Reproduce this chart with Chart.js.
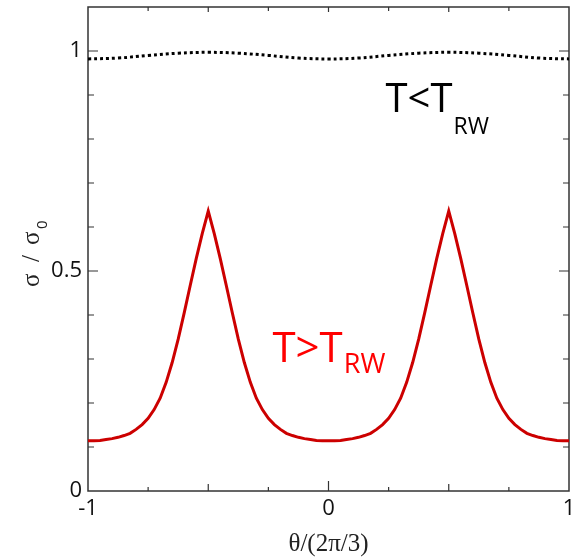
<!DOCTYPE html>
<html lang="en">
<head>
<meta charset="UTF-8">
<title>sigma / sigma0 vs theta</title>
<script src="https://cdn.jsdelivr.net/npm/chart.js"></script>
<style>
  html, body { margin: 0; padding: 0; background: #fff; }
  #wrap { width: 577px; height: 560px; }
</style>
</head>
<body>
<div id="wrap"><canvas id="chart" width="577" height="560"></canvas></div>
<script>
// theta/(2pi/3) for the T>T_RW curve
const thetaHot = [
  -1, -0.975, -0.95, -0.925, -0.9, -0.875, -0.85, -0.825, -0.8, -0.775,
  -0.75, -0.725, -0.7, -0.675, -0.65, -0.625, -0.6, -0.575, -0.55, -0.525,
  -0.5, -0.475, -0.45, -0.425, -0.4, -0.375, -0.35, -0.325, -0.3, -0.275,
  -0.25, -0.225, -0.2, -0.175, -0.15, -0.125, -0.1, -0.075, -0.05, -0.025,
  0, 0.025, 0.05, 0.075, 0.1, 0.125, 0.15, 0.175, 0.2, 0.225,
  0.25, 0.275, 0.3, 0.325, 0.35, 0.375, 0.4, 0.425, 0.45, 0.475,
  0.5, 0.525, 0.55, 0.575, 0.6, 0.625, 0.65, 0.675, 0.7, 0.725,
  0.75, 0.775, 0.8, 0.825, 0.85, 0.875, 0.9, 0.925, 0.95, 0.975, 1
];
// sigma/sigma0 above T_RW (red)
const sigmaHot = [
  0.114, 0.114, 0.115, 0.117, 0.119, 0.122, 0.126, 0.131, 0.140, 0.151,
  0.165, 0.185, 0.211, 0.247, 0.292, 0.345, 0.405, 0.467, 0.528, 0.585,
  0.636, 0.585, 0.528, 0.467, 0.405, 0.345, 0.292, 0.247, 0.211, 0.185,
  0.165, 0.151, 0.140, 0.131, 0.126, 0.122, 0.119, 0.117, 0.115, 0.114,
  0.114, 0.114, 0.115, 0.117, 0.119, 0.122, 0.126, 0.131, 0.140, 0.151,
  0.165, 0.185, 0.211, 0.247, 0.292, 0.345, 0.405, 0.467, 0.528, 0.585,
  0.636, 0.585, 0.528, 0.467, 0.405, 0.345, 0.292, 0.247, 0.211, 0.185,
  0.165, 0.151, 0.140, 0.131, 0.126, 0.122, 0.119, 0.117, 0.115, 0.114, 0.114
];
// below T_RW (black dotted)
const thetaCold = [-1, -0.875, -0.75, -0.625, -0.5, -0.375, -0.25, -0.125, 0,
                   0.125, 0.25, 0.375, 0.5, 0.625, 0.75, 0.875, 1];
const sigmaCold = [0.982, 0.984, 0.990, 0.995, 0.997, 0.995, 0.990, 0.984, 0.982,
                   0.984, 0.990, 0.995, 0.997, 0.995, 0.990, 0.984, 0.982];

const yLabels = [0, 0.5, 1];
const xLabels = [-1, 0, 1];

const near = (v, list) => list.some(l => Math.abs(v - l) < 1e-6);

// box round the plot with inward tick marks on all four sides
const framePlugin = {
  id: 'frame',
  beforeDatasetsDraw(chart) {
    const { ctx, chartArea: a, scales } = chart;
    ctx.save();
    ctx.strokeStyle = '#333';
    ctx.lineWidth = 1.5;
    ctx.strokeRect(a.left, a.top, a.right - a.left, a.bottom - a.top);
    ctx.lineWidth = 1.2;
    ctx.beginPath();
    scales.x.ticks.forEach(t => {
      const px = scales.x.getPixelForValue(t.value);
      let len = 4;
      if (near(t.value, [0])) len = 10;
      else if (near(t.value, [-0.5, 0.5])) len = 7;
      if (near(t.value, [-1, 1])) return;
      ctx.moveTo(px, a.bottom); ctx.lineTo(px, a.bottom - len);
      ctx.moveTo(px, a.top); ctx.lineTo(px, a.top + Math.min(len, 5));
    });
    scales.y.ticks.forEach(t => {
      const py = scales.y.getPixelForValue(t.value);
      if (t.value <= 0 || t.value >= 1.1 - 1e-6) return;
      const len = near(t.value, [0.5, 1]) ? 10 : 6;
      ctx.moveTo(a.left, py); ctx.lineTo(a.left + len, py);
      ctx.moveTo(a.right, py); ctx.lineTo(a.right - len, py);
    });
    ctx.stroke();
    ctx.restore();
  },
  afterDatasetsDraw(chart) {
    const { ctx, scales } = chart;
    const x = scales.x, y = scales.y;
    const label = (main, sub, tx, ty, size, subSize, drop, color) => {
      const px = x.getPixelForValue(tx), py = y.getPixelForValue(ty);
      ctx.fillStyle = color;
      ctx.textBaseline = 'alphabetic';
      ctx.textAlign = 'left';
      ctx.font = size + 'px "Open Sans"';
      ctx.fillText(main, px, py);
      const w = ctx.measureText(main).width;
      ctx.font = subSize + 'px "Open Sans"';
      ctx.fillText(sub, px + w + 1, py + drop);
    };
    ctx.save();
    label('T<T', 'RW', 0.237, 0.861, 40, 23, 22, '#000');
    label('T>T', 'RW', -0.233, 0.294, 42, 27, 11, '#ff0000');

    // y axis title, rotated, with subscript 0
    ctx.translate(38.5, 287);
    ctx.rotate(-Math.PI / 2);
    ctx.fillStyle = '#222';
    ctx.textBaseline = 'alphabetic';
    ctx.font = '25px "Liberation Serif"';
    ctx.fillText('\u03c3', 0, 0);
    ctx.fillText('/', 25, 0);
    ctx.fillText('\u03c3', 42, 0);
    ctx.font = '15px "Open Sans"';
    ctx.fillText('0', 58, 8.5);
    ctx.restore();
  }
};

new Chart(document.getElementById('chart'), {
  type: 'line',
  data: {
    datasets: [
      {
        label: 'T<T_RW',
        data: thetaCold.map((t, i) => ({ x: t, y: sigmaCold[i] })),
        borderColor: '#000',
        borderWidth: 3,
        borderDash: [3, 3],
        pointRadius: 0,
        tension: 0.4,
        fill: false
      },
      {
        label: 'T>T_RW',
        data: thetaHot.map((t, i) => ({ x: t, y: sigmaHot[i] })),
        borderColor: '#cc0000',
        borderWidth: 3,
        pointRadius: 0,
        tension: 0,
        fill: false
      }
    ]
  },
  options: {
    responsive: false,
    animation: false,
    layout: { padding: { top: 7, right: 8, left: 0, bottom: 0 } },
    plugins: { legend: { display: false }, tooltip: { enabled: false } },
    scales: {
      x: {
        type: 'linear',
        min: -1,
        max: 1,
        afterFit: s => { s.height = 69; s.paddingLeft = 0; s.paddingRight = 0; },
        grid: { display: false, drawTicks: false },
        border: { display: false },
        ticks: {
          stepSize: 0.25,
          autoSkip: false,
          maxRotation: 0,
          padding: 5,
          color: '#111',
          font: { family: 'Open Sans', size: 22 },
          callback: v => near(v, xLabels) ? String(Math.round(v)) : ''
        },
        title: {
          display: true,
          text: '\u03b8/(2\u03c0/3)',
          color: '#222',
          padding: { top: 0, bottom: 1 },
          font: { family: 'Liberation Serif', size: 25 }
        }
      },
      y: {
        min: 0,
        max: 1.1,
        afterFit: s => { s.width = 88; s.paddingTop = 0; s.paddingBottom = 0; },
        grid: { display: false, drawTicks: false },
        border: { display: false },
        ticks: {
          stepSize: 0.1,
          autoSkip: false,
          padding: 6,
          color: '#111',
          font: { family: 'Open Sans', size: 22 },
          callback: v => near(v, yLabels) ? String(Math.round(v * 2) / 2) : ''
        }
      }
    }
  },
  plugins: [framePlugin]
});
</script>
</body>
</html>
